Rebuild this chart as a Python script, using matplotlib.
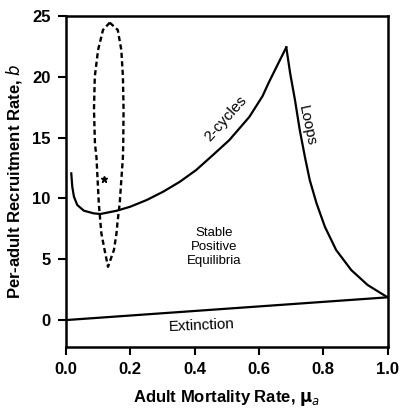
import matplotlib
matplotlib.use('Agg')
import matplotlib.pyplot as plt

plt.rcParams['font.family'] = ['Liberation Sans', 'DejaVu Sans']

# 2-cycle boundary (lower curve rising to the cusp)
cycle_mu = [0.0164, 0.0195, 0.0247, 0.035, 0.0556, 0.0864, 0.107, 0.158,
            0.2, 0.251, 0.302, 0.354, 0.405, 0.457, 0.508, 0.57, 0.611,
            0.63, 0.66, 0.685]
cycle_b = [12.06, 10.96, 10.14, 9.46, 8.99, 8.77, 8.72, 8.99,
           9.32, 9.87, 10.55, 11.37, 12.34, 13.57, 14.8, 16.7, 18.4,
           19.5, 21.1, 22.42]

# loop boundary (cusp down to mu = 1)
loops_mu = [0.685, 0.697, 0.712, 0.727, 0.743, 0.758, 0.779, 0.805,
            0.84, 0.887, 0.938, 1.0]
loops_b = [22.42, 20.29, 18.09, 15.6, 13.4, 11.5, 9.6, 7.67,
           5.76, 4.11, 2.88, 1.87]

# extinction boundary
ext_mu = [0.0, 1.0]
ext_b = [0.0, 1.87]

# dashed closed curve
oval_mu = [0.136, 0.161, 0.172, 0.177, 0.179, 0.178, 0.177, 0.167, 0.16,
           0.157, 0.149, 0.1306, 0.12, 0.11, 0.107, 0.102, 0.0947, 0.09,
           0.087, 0.0895, 0.0997, 0.115, 0.136]
oval_b = [24.45, 23.85, 22.2, 20.0, 17.3, 14.5, 13.4, 9.6, 8.0,
          7.13, 5.76, 4.38, 5.76, 7.13, 8.0, 9.6, 13.4, 14.5,
          17.3, 20.0, 22.2, 23.85, 24.45]

star_mu, star_b = 0.117, 11.6

xticks = [0.0, 0.2, 0.4, 0.6, 0.8, 1.0]
yticks = [0, 5, 10, 15, 20, 25]

fig = plt.figure(figsize=(4.0, 4.09), dpi=100)
ax = fig.add_axes([0.165, 0.152, 0.804, 0.809])

ax.plot(cycle_mu, cycle_b, color='black', lw=1.6, solid_joinstyle='round')
ax.plot(loops_mu, loops_b, color='black', lw=1.6, solid_joinstyle='round')
ax.plot(ext_mu, ext_b, color='black', lw=1.6)
ax.plot(oval_mu, oval_b, color='black', lw=1.7, ls=(0, (2.2, 1.4)))
ax.plot([star_mu], [star_b], marker='*', color='black', ms=5, ls='none')

ax.text(0.498, 16.6, '2-cycles', rotation=48, ha='center', va='center',
        fontsize=11)
ax.text(0.748, 16.0, 'Loops', rotation=-78, ha='center', va='center',
        fontsize=11)
ax.text(0.46, 6.0, 'Stable\nPositive\nEquilibria', ha='center', va='center',
        fontsize=9.5, linespacing=1.2)
ax.text(0.423, -0.45, 'Extinction', rotation=2.5, ha='center', va='center',
        fontsize=11)

ax.set_xlim(0, 1.0)
ax.set_ylim(-2.2, 25)
ax.set_xticks(xticks)
ax.set_xticklabels(['%.1f' % t for t in xticks])
ax.set_yticks(yticks)
ax.tick_params(direction='out', length=6, width=1.5, labelsize=12, pad=5)
for lab in ax.get_xticklabels() + ax.get_yticklabels():
    lab.set_fontweight('bold')
for s in ax.spines.values():
    s.set_linewidth(1.8)

ax.set_xlabel(r'Adult Mortality Rate, $\mathbf{\mu}_{\mathit{a}}$',
              fontsize=12, fontweight='bold', labelpad=8)
ax.set_ylabel(r'Per-adult Recruitment Rate, $\mathit{b}$',
              fontsize=12, fontweight='bold', labelpad=6)

plt.savefig('out.png', dpi=100)
plt.close()
